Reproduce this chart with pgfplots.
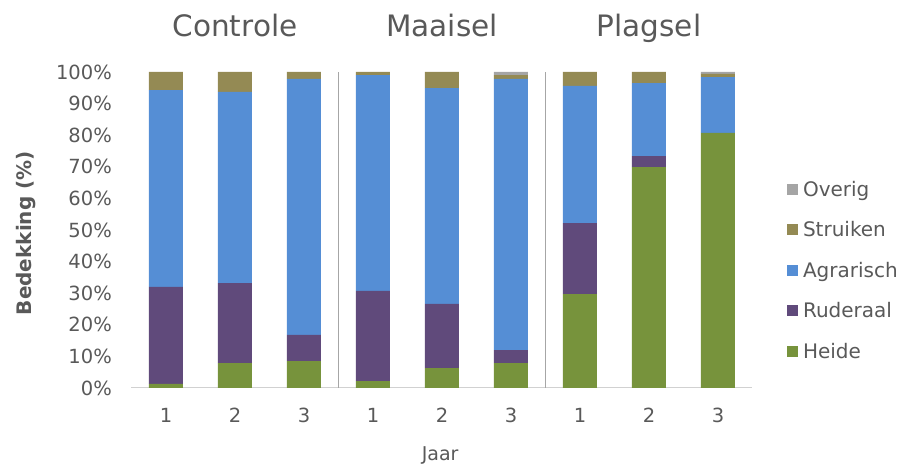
\documentclass[border=0pt]{standalone}
\usepackage{pgfplots}
\usepackage{pgfplotstable}
\pgfplotsset{compat=1.18}
\usepackage{fontspec}
\setmainfont{DejaVu Sans}
\definecolor{heide}{HTML}{77933C}
\definecolor{ruderaal}{HTML}{604A7B}
\definecolor{agrarisch}{HTML}{558ED5}
\definecolor{struiken}{HTML}{948A54}
\definecolor{overig}{HTML}{A5A5A5}
\definecolor{txt}{HTML}{595959}
\pgfplotstableread{
x heide ruderaal agrarisch struiken overig
0 1.3 30.7 62.3 5.7 0
1 7.9 25.3 60.5 6.3 0
2 8.5 8.3 81.0 2.2 0
3 2.2 28.5 68.3 1.0 0
4 6.3 20.3 68.3 5.1 0
5 7.9 4.1 85.8 1.2 1.0
6 29.7 22.5 43.4 4.4 0
7 69.9 3.5 23.1 3.5 0
8 80.7 0 17.7 1.0 0.6
}\data
\begin{document}
\begin{tikzpicture}
\useasboundingbox (-131.5pt,-78pt) rectangle (790.5pt,388pt);
\begin{axis}[
  scale only axis, width=621pt, height=316pt,
  ybar stacked, bar width=34pt,
  xmin=-0.5, xmax=8.5, ymin=0, ymax=100,
  clip=false,
  axis lines*=left,
  x axis line style={draw=black!18, line width=1pt},
  y axis line style={draw=none},
  tick style={draw=none},
  xtick={0,...,8}, xticklabels={1,2,3,1,2,3,1,2,3},
  ytick={0,10,...,100},
  yticklabels={0\%,10\%,20\%,30\%,40\%,50\%,60\%,70\%,80\%,90\%,100\%},
  /pgf/number format/assume math mode=true,
  ticklabel style={font=\fontsize{19.5}{22}\selectfont, text=txt},
  yticklabel style={inner sep=0pt, anchor=east, xshift=-19.5pt},
  xticklabel style={inner sep=0pt, anchor=north, yshift=-20pt},
  extra x ticks={2.5,5.5}, extra x tick labels={},
  extra x tick style={grid=major, major grid style={draw=black!35, line width=0.8pt}},
  xlabel={Jaar},
  xlabel style={at={(axis description cs:0.497,0)}, anchor=base, yshift=-72pt, inner sep=0pt, font=\fontsize{19}{22}\selectfont, text=txt},
  ylabel={Bedekking (\%)},
  ylabel style={at={(axis description cs:0,0.49)}, anchor=base, yshift=99.5pt, inner sep=0pt, font=\fontsize{20}{24}\selectfont\bfseries, text=txt},
  reverse legend,
  legend image code/.code={\fill[#1] (0pt,-3.5pt) rectangle (11pt,7.5pt);},
  legend style={at={(axis description cs:1.0556,0.366)}, anchor=west, draw=none, fill=none,
    inner sep=0pt, outer sep=0pt, font=\fontsize{20}{24}\selectfont, text=txt,
    row sep=20.5pt, cells={anchor=west},
    nodes={inner sep=0pt, text height=15pt, text depth=5pt},
    /tikz/every odd column/.append style={column sep=5pt}},
]
\addplot[fill=heide, draw=none] table[x=x,y=heide]{\data};
\addplot[fill=ruderaal, draw=none] table[x=x,y=ruderaal]{\data};
\addplot[fill=agrarisch, draw=none] table[x=x,y=agrarisch]{\data};
\addplot[fill=struiken, draw=none] table[x=x,y=struiken]{\data};
\addplot[fill=overig, draw=none] table[x=x,y=overig]{\data};
\legend{Heide,Ruderaal,Agrarisch,Struiken,Overig}
\node[anchor=base, font=\fontsize{29.5}{34}\selectfont, text=txt] at (axis cs:1,111.3) {Controle};
\node[anchor=base, font=\fontsize{29.5}{34}\selectfont, text=txt] at (axis cs:4,111.3) {Maaisel};
\node[anchor=base, font=\fontsize{29.5}{34}\selectfont, text=txt] at (axis cs:7,111.3) {Plagsel};
\end{axis}
\end{tikzpicture}
\end{document}
